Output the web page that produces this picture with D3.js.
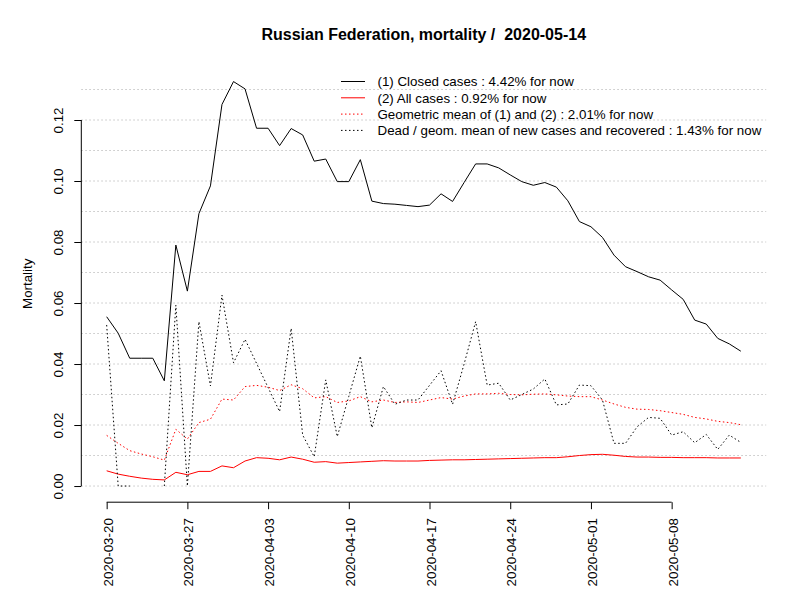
<!DOCTYPE html>
<html>
<head>
<meta charset="utf-8">
<script src="https://cdn.jsdelivr.net/npm/d3@7"></script>
<style>
  html, body { margin: 0; padding: 0; background: #fff; }
  svg { display: block; font-family: "Liberation Sans", Arial, Helvetica, sans-serif; }
  text { white-space: pre; }
</style>
</head>
<body>
<svg id="chart" width="800" height="600"></svg>
<script>
const titleText = "Russian Federation, mortality /  2020-05-14";
const yLabel = "Mortality";
const startDate = "2020-03-20";
const endDate = "2020-05-14";
const xTickLabels = ["2020-03-20","2020-03-27","2020-04-03","2020-04-10","2020-04-17","2020-04-24","2020-05-01","2020-05-08"];
const yTicks = [0.00, 0.02, 0.04, 0.06, 0.08, 0.10, 0.12];
const gridValues = [0.00,0.01,0.02,0.03,0.04,0.05,0.06,0.07,0.08,0.09,0.10,0.11,0.12,0.13];

const closedCases = [0.0555,0.0501,0.0419,0.0419,0.0419,0.0345,0.0790,0.0639,0.0893,0.0984,
  0.1251,0.1326,0.1302,0.1173,0.1173,0.1116,0.1172,0.1151,0.1065,0.1072,
  0.0998,0.0998,0.1070,0.0934,0.0926,0.0924,0.0920,0.0916,0.0921,0.0958,
  0.0933,0.0995,0.1056,0.1056,0.1043,0.1020,0.0998,0.0986,0.0995,0.0980,
  0.0935,0.0867,0.0850,0.0815,0.0757,0.0719,0.0703,0.0686,0.0675,0.0643,
  0.0612,0.0544,0.0531,0.0484,0.0466,0.0442];
const allCases = [0.0050,0.0039,0.0032,0.0026,0.0022,0.0020,0.0045,0.0037,0.0048,0.0048,
  0.0066,0.0060,0.0082,0.0093,0.0091,0.0086,0.0095,0.0088,0.0078,0.0080,
  0.0075,0.0077,0.0079,0.0081,0.0083,0.0082,0.0082,0.0082,0.0084,0.0085,
  0.0086,0.0086,0.0087,0.0088,0.0089,0.0090,0.0091,0.0092,0.0093,0.0093,
  0.0096,0.0100,0.0103,0.0104,0.0101,0.0097,0.0095,0.0095,0.0094,0.0094,
  0.0093,0.0093,0.0093,0.0092,0.0092,0.0092];
const geomMean = [0.0166,0.0140,0.0116,0.0105,0.0096,0.0085,0.0186,0.0154,0.0208,0.0219,
  0.0285,0.0282,0.0326,0.0330,0.0324,0.0313,0.0332,0.0319,0.0289,0.0293,
  0.0274,0.0279,0.0293,0.0276,0.0282,0.0274,0.0276,0.0274,0.0282,0.0290,
  0.0285,0.0295,0.0302,0.0302,0.0304,0.0300,0.0299,0.0301,0.0302,0.0299,
  0.0295,0.0293,0.0293,0.0282,0.0269,0.0258,0.0252,0.0251,0.0247,0.0241,
  0.0235,0.0225,0.0220,0.0212,0.0208,0.0201];
const deadRatio = [0.0528,0,0,null,null,0,0.0593,0,0.0539,0.0328,
  0.0626,0.0404,0.0481,0.0402,0.0323,0.0244,0.0517,0.0167,0.0096,0.0348,
  0.0162,0.0294,0.0426,0.0191,0.0326,0.0268,0.0282,0.0282,0.0330,0.0378,
  0.0268,0.0400,0.0539,0.0331,0.0337,0.0282,0.0300,0.0318,0.0351,0.0266,
  0.0269,0.0331,0.0329,0.0282,0.0140,0.0140,0.0194,0.0225,0.0222,0.0167,
  0.0178,0.0142,0.0169,0.0120,0.0167,0.0143];

const legendLabels = [
  "(1) Closed cases : 4.42% for now",
  "(2) All cases : 0.92% for now",
  "Geometric mean of (1) and (2) : 2.01% for now",
  "Dead / geom. mean of new cases and recovered : 1.43% for now"
];
const seriesColors = ["#000000", "#ff0000", "#ff0000", "#000000"];
const seriesDash = [null, null, "1.5,2.5", "1.5,2.5"];

const parse = d3.utcParse("%Y-%m-%d");
const d0 = parse(startDate), d1 = parse(endDate);
const dates = d3.utcDay.range(d0, d3.utcDay.offset(d1, 1));
const series = [closedCases, allCases, geomMean, deadRatio];

const FS = 13.33;
const svg = d3.select("#chart");
const pad = 2.2 * 86400000;
const x = d3.scaleUtc().domain([new Date(+d0 - pad), new Date(+d1 + pad)]).range([81.3, 766.2]);
const y = d3.scaleLinear().domain([-0.0053, 0.1379]).range([502.2, 65.4]);

// grid
svg.append("g").selectAll("line").data(gridValues).join("line")
  .attr("x1", 81.3).attr("x2", 766.2)
  .attr("y1", d => y(d)).attr("y2", d => y(d))
  .attr("stroke", "#c4c4c4").attr("stroke-width", 1)
  .attr("stroke-dasharray", "1.5,2.5");

// lines
series.forEach((vals, k) => {
  const line = d3.line()
    .defined(d => d.v !== null)
    .x(d => x(d.date)).y(d => y(d.v));
  const data = vals.map((v, i) => ({date: dates[i], v}));
  const p = svg.append("path").datum(data)
    .attr("fill", "none")
    .attr("stroke", seriesColors[k])
    .attr("stroke-width", 1)
    .attr("stroke-linejoin", "round")
    .attr("d", line);
  if (seriesDash[k]) p.attr("stroke-dasharray", seriesDash[k]);
});

// y axis
const yAxis = d3.axisLeft(y).tickValues(yTicks).tickSize(7).tickFormat(d3.format(".2f"));
const gy = svg.append("g").attr("transform", "translate(81.3,0)").call(yAxis);
gy.select(".domain").attr("d", `M0,${y(0)}V${y(0.12)}`).attr("stroke", "#000");
gy.selectAll(".tick line").attr("stroke", "#000");
gy.selectAll(".tick text")
  .attr("x", null).attr("dy", null)
  .attr("transform", "translate(-18,0) rotate(-90)")
  .attr("text-anchor", "middle")
  .attr("font-size", FS).attr("fill", "#000")
  .style("font-family", '"Liberation Sans", Arial, sans-serif');

// x axis
const xTickDates = xTickLabels.map(parse);
const xAxis = d3.axisBottom(x).tickValues(xTickDates).tickSize(7).tickFormat(d3.utcFormat("%Y-%m-%d"));
const gx = svg.append("g").attr("transform", "translate(0,502.2)").call(xAxis);
gx.select(".domain").attr("d", `M${x(xTickDates[0])},0H${x(xTickDates[xTickDates.length-1])}`).attr("stroke", "#000");
gx.selectAll(".tick line").attr("stroke", "#000");
gx.selectAll(".tick text")
  .attr("y", null).attr("dy", null)
  .attr("transform", "translate(5.6,16) rotate(-90)")
  .attr("text-anchor", "end")
  .attr("font-size", FS).attr("fill", "#000")
  .style("font-family", '"Liberation Sans", Arial, sans-serif');

// y label
svg.append("text")
  .attr("transform", `translate(32,${(y(-0.0053)+y(0.1379))/2}) rotate(-90)`)
  .attr("text-anchor", "middle").attr("font-size", FS).text(yLabel);

// title
svg.append("text")
  .attr("x", (81.3 + 766.2) / 2).attr("y", 39.5)
  .attr("text-anchor", "middle").attr("font-size", 16).attr("font-weight", "bold")
  .text(titleText);

// legend
const lg = svg.append("g");
legendLabels.forEach((lab, k) => {
  const cy = 81.5 + k * 16.3;
  const l = lg.append("line").attr("x1", 341).attr("x2", 365).attr("y1", cy).attr("y2", cy)
    .attr("stroke", seriesColors[k]).attr("stroke-width", 1);
  if (seriesDash[k]) l.attr("stroke-dasharray", seriesDash[k]);
  lg.append("text").attr("x", 377.5).attr("y", cy + 4.8).attr("font-size", FS).text(lab);
});
</script>
</body>
</html>
